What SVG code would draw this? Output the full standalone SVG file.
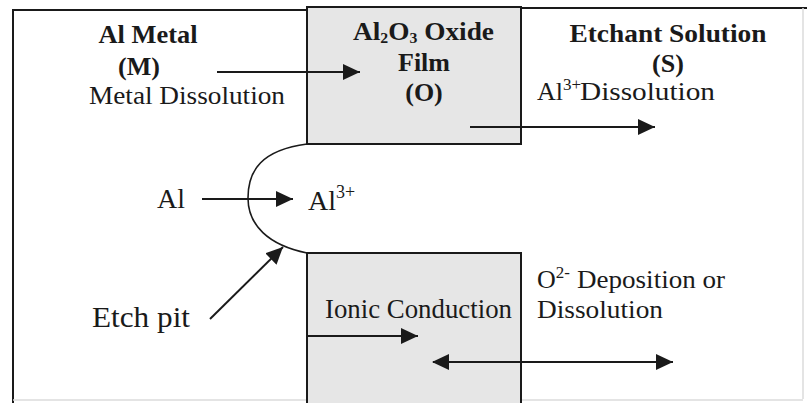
<svg xmlns="http://www.w3.org/2000/svg" width="807" height="403" viewBox="0 0 807 403">
<style>
text{font-family:"Liberation Serif","Times New Roman",serif;fill:#1a1a1a;}
.b{font-weight:bold;font-size:26px;}
.r{font-size:26px;}
.sup{font-size:17px;}
.sub{font-size:15px;}
.ln{stroke:#1a1a1a;stroke-width:2;fill:none;}
.box{fill:#e6e6e6;stroke:#1a1a1a;stroke-width:2;}
</style>
<defs>
<marker id="ah" markerUnits="userSpaceOnUse" markerWidth="18" markerHeight="16" refX="17" refY="8" orient="auto">
<path d="M0,0 L17,8 L0,16 Z" fill="#1a1a1a"/>
</marker>
<marker id="at" markerUnits="userSpaceOnUse" markerWidth="18" markerHeight="16" refX="1" refY="8" orient="auto">
<path d="M17,0 L0,8 L17,16 Z" fill="#1a1a1a"/>
</marker>
</defs>
<rect width="807" height="403" fill="#ffffff"/>
<g id="frame">
<path d="M13,403 V10 H307" class="ln"/>
<path d="M521,8 H807" class="ln"/>
<path d="M803,8 V399 M13,400 H803" stroke="#dcdcdc" stroke-width="1.5" fill="none"/>
</g>
<g id="oxide-top">
<rect x="307" y="7" width="214" height="137" class="box"/>
<text class="b" x="353" y="40" textLength="141" lengthAdjust="spacingAndGlyphs">Al<tspan class="sub" dy="3">2</tspan><tspan dy="-3">O</tspan><tspan class="sub" dy="3">3</tspan><tspan dy="-3"> Oxide</tspan></text>
<text class="b" x="424" y="71" text-anchor="middle">Film</text>
<text class="b" x="424" y="101" text-anchor="middle">(O)</text>
</g>
<g id="oxide-bottom">
<rect x="307" y="253" width="214" height="160" class="box"/>
<text x="325" y="318" font-size="27" textLength="187" lengthAdjust="spacingAndGlyphs">Ionic Conduction</text>
</g>
<g id="pit">
<path d="M307,144 C262,150 248,170 248,198 C248,225 268,245 307,253" stroke="#1a1a1a" stroke-width="1.6" fill="none"/>
</g>
<g id="metal">
<text class="b" x="148" y="43" text-anchor="middle" textLength="99" lengthAdjust="spacingAndGlyphs">Al Metal</text>
<text class="b" x="139" y="75" text-anchor="middle">(M)</text>
<text class="r" x="89" y="104" textLength="196" lengthAdjust="spacingAndGlyphs">Metal Dissolution</text>
</g>
<g id="solution">
<text class="b" x="668" y="42" text-anchor="middle" textLength="197" lengthAdjust="spacingAndGlyphs">Etchant Solution</text>
<text class="b" x="668" y="72" text-anchor="middle">(S)</text>
<text class="r" x="537" y="100">Al<tspan class="sup" dy="-10">3+</tspan><tspan dy="10" x="580" textLength="135" lengthAdjust="spacingAndGlyphs">Dissolution</tspan></text>
<text class="r" x="537" y="288">O<tspan class="sup" dy="-10">2-</tspan><tspan dy="10" x="577" textLength="148" lengthAdjust="spacingAndGlyphs">Deposition or</tspan></text>
<text class="r" x="537" y="318" textLength="126" lengthAdjust="spacingAndGlyphs">Dissolution</text>
</g>
<g id="al-labels">
<text x="157" y="208" font-size="28" textLength="28" lengthAdjust="spacingAndGlyphs">Al</text>
<text x="308" y="210" font-size="28">Al<tspan font-size="18" dy="-12">3+</tspan></text>
<text x="92" y="327" font-size="30" textLength="98" lengthAdjust="spacingAndGlyphs">Etch pit</text>
</g>
<g id="connectors">
<line x1="217" y1="72" x2="360" y2="72" class="ln" marker-end="url(#ah)"/>
<line x1="470" y1="127" x2="655" y2="127" class="ln" marker-end="url(#ah)"/>
<line x1="202" y1="199" x2="293" y2="199" class="ln" marker-end="url(#ah)"/>
<line x1="210" y1="319" x2="283" y2="247" class="ln" marker-end="url(#ah)"/>
<line x1="307" y1="336" x2="418" y2="336" class="ln" marker-end="url(#ah)"/>
<line x1="433" y1="362" x2="673" y2="362" class="ln" marker-start="url(#at)" marker-end="url(#ah)"/>
</g>
</svg>
